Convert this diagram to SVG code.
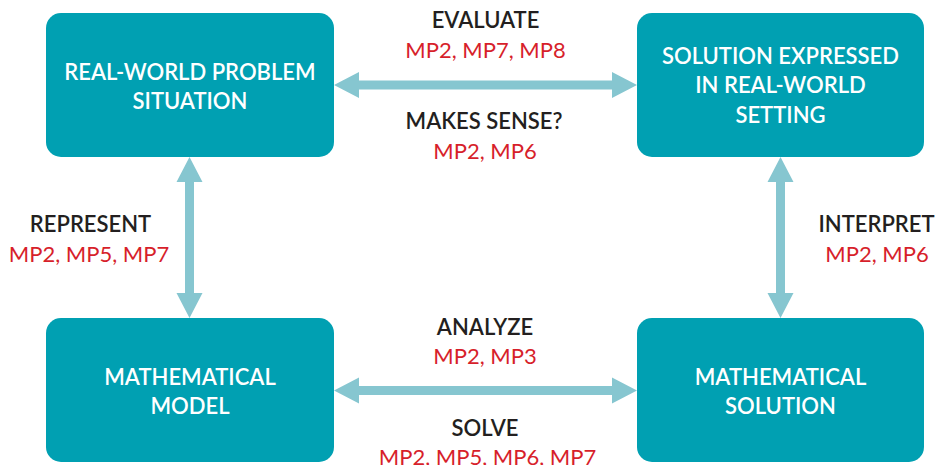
<svg xmlns="http://www.w3.org/2000/svg" width="950" height="465" viewBox="0 0 950 465">
<style>
.box{fill:#00A0B2}
.bt{fill:#FFFFFF;font-family:Lato,"Liberation Sans",sans-serif;font-size:22px;font-weight:600;text-anchor:middle}
.lb{fill:#231F20;font-family:Lato,"Liberation Sans",sans-serif;font-size:22px;font-weight:600;text-anchor:middle}
.mp{fill:#D71F2B;font-family:Lato,"Liberation Sans",sans-serif;font-size:22px;font-weight:400;text-anchor:middle}
.arr{fill:#86C6D0}
</style>
<rect width="950" height="465" fill="#FFFFFF"/>
<g id="connectors">
<polygon class="arr" points="334,85 359,72 359,80.5 612,80.5 612,72 637,85 612,98 612,89.5 359,89.5 359,98"/>
<polygon class="arr" points="334,390.5 359,377.5 359,386 612,386 612,377.5 637,390.5 612,403.5 612,395 359,395 359,403.5"/>
<polygon class="arr" points="189.5,157 202.5,182 194,182 194,293 202.5,293 189.5,318 176.5,293 185,293 185,182 176.5,182"/>
<polygon class="arr" points="780.5,157 793.5,182 785,182 785,293 793.5,293 780.5,318 767.5,293 776,293 776,182 767.5,182"/>
</g>
<g id="real-world-problem">
<rect class="box" x="46" y="13" width="288" height="144" rx="15"/>
<text class="bt" x="190" y="80">REAL-WORLD PROBLEM</text>
<text class="bt" x="190" y="109">SITUATION</text>
</g>
<g id="solution-real-world">
<rect class="box" x="637" y="13" width="287" height="144" rx="15"/>
<text class="bt" x="780.5" y="64">SOLUTION EXPRESSED</text>
<text class="bt" x="780.5" y="93">IN REAL-WORLD</text>
<text class="bt" x="780.5" y="123">SETTING</text>
</g>
<g id="mathematical-model">
<rect class="box" x="46" y="318" width="288" height="144" rx="15"/>
<text class="bt" x="190" y="385">MATHEMATICAL</text>
<text class="bt" x="190" y="414">MODEL</text>
</g>
<g id="mathematical-solution">
<rect class="box" x="637" y="318" width="287" height="144" rx="15"/>
<text class="bt" x="780.5" y="385">MATHEMATICAL</text>
<text class="bt" x="780.5" y="414">SOLUTION</text>
</g>
<g id="labels">
<text class="lb" x="485.5" y="28">EVALUATE</text>
<text class="mp" x="485.5" y="58">MP2, MP7, MP8</text>
<text class="lb" x="484" y="129">MAKES SENSE?</text>
<text class="mp" x="485" y="159">MP2, MP6</text>
<text class="lb" x="90.5" y="232">REPRESENT</text>
<text class="mp" x="89" y="262">MP2, MP5, MP7</text>
<text class="lb" x="876.5" y="232">INTERPRET</text>
<text class="mp" x="877" y="262">MP2, MP6</text>
<text class="lb" x="485" y="335">ANALYZE</text>
<text class="mp" x="485" y="364">MP2, MP3</text>
<text class="lb" x="485" y="436">SOLVE</text>
<text class="mp" x="487.5" y="465">MP2, MP5, MP6, MP7</text>
</g>
</svg>
